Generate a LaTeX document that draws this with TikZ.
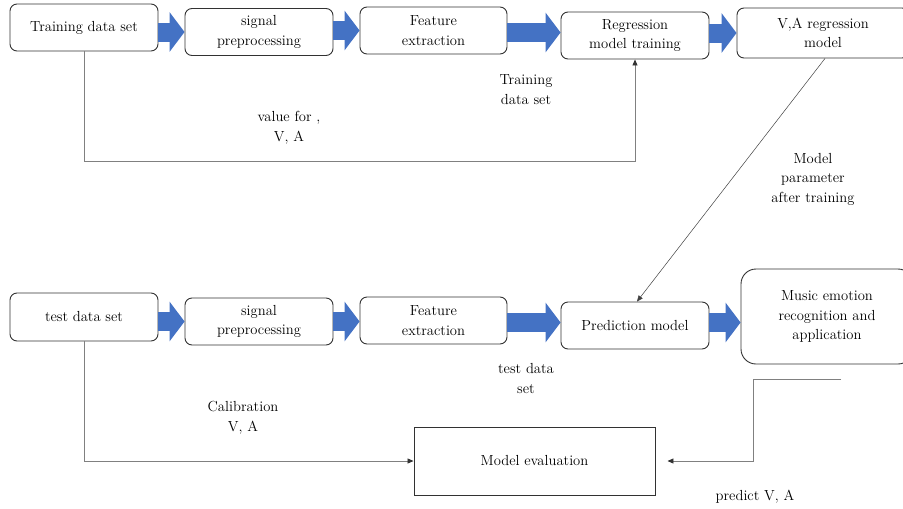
\documentclass[tikz,border=0pt]{standalone}
\usepackage{fontspec}
\usetikzlibrary{arrows.meta,positioning,calc}
\definecolor{arrowblue}{RGB}{68,114,196}
\definecolor{boxline}{RGB}{50,50,50}
\definecolor{connline}{RGB}{128,128,128}
\tikzset{
  box/.style={draw=boxline, line width=0.9pt, rounded corners=7pt, align=center,
    inner sep=2pt, font=\rmfamily\fontsize{14.6}{19.5}\selectfont, text=black},
  sqbox/.style={draw=boxline, line width=0.9pt, align=center,
    inner sep=2pt, font=\rmfamily\fontsize{14.6}{19.5}\selectfont, text=black},
  bigarrow/.style={draw=arrowblue, line width=19pt,
    -{Triangle[width=39pt,length=15pt]}, arrowblue},
  conn/.style={draw=connline, line width=0.8pt,
    arrows={-{Triangle[length=6pt,width=5pt,color=black!80]}}},
  diag/.style={draw=black!75, line width=0.5pt, -{Triangle[length=6pt,width=5pt]}},
  lbl/.style={align=center, font=\rmfamily\fontsize{14.6}{19.5}\selectfont, text=black}
}
\begin{document}
\begin{tikzpicture}[x=1pt,y=-1pt]
\useasboundingbox (0,0) rectangle (903,509);
% top row
\node[box, minimum width=148pt, minimum height=47pt] (tr) at (84,27.5) {Training data set};
\node[box, minimum width=148pt, minimum height=47pt] (sp) at (259,32) {signal\\preprocessing};
\node[box, minimum width=147pt, minimum height=47pt] (fe) at (433.5,30.5) {Feature\\extraction};
\node[box, minimum width=148pt, minimum height=47pt] (rm) at (635,35.5) {Regression\\model training};
\node[box, minimum width=172pt, minimum height=50pt] (va) at (823,33) {V,A regression\\model};
% bottom row
\node[box, minimum width=148pt, minimum height=48pt] (td) at (84,317) {test data set};
\node[box, minimum width=148pt, minimum height=47pt] (sp2) at (259,321.5) {signal\\preprocessing};
\node[box, minimum width=147pt, minimum height=47pt] (fe2) at (433.5,320.5) {Feature\\extraction};
\node[box, minimum width=148pt, minimum height=47pt] (pm) at (635,325.5) {Prediction model};
\node[box, rounded corners=15pt, minimum width=172pt, minimum height=95pt] (mu) at (827,316.5) {Music emotion\\recognition and\\application};
\node[sqbox, minimum width=241pt, minimum height=68pt] (me) at (534.5,461) {Model evaluation};
% big blue arrows, top
\draw[bigarrow] (tr.east |- sp.west) -- (sp.west);
\draw[bigarrow] (sp.east |- fe.west) -- (fe.west);
\draw[bigarrow] ([yshift=-2pt]fe.east) -- ([yshift=-2pt]fe.east -| rm.west);
\draw[bigarrow] (rm.east |- va.west) -- (va.west);
% big blue arrows, bottom
\draw[bigarrow] (td.east |- sp2.west) -- (sp2.west);
\draw[bigarrow] (sp2.east) -- (sp2.east -| fe2.west);
\draw[bigarrow] ([yshift=-2pt]fe2.east) -- ([yshift=-2pt]fe2.east -| pm.west);
\draw[bigarrow] ([yshift=3pt]pm.east) -- ([yshift=3pt]pm.east -| mu.west);
% thin connectors
\draw[conn] (tr.south) -- ++(0,110) -| (rm.south);
\draw[diag] ([xshift=2pt]va.south) -- ([xshift=2pt]pm.north);
\draw[conn] (td.south) |- (me.west);
\coordinate (pstart) at (841,379);
\coordinate (pend) at ([xshift=12pt]me.east);
\draw[conn] (pstart) -- ++(-88,0) |- (pend);
% labels
\node[lbl] (l1) at (289,128) {value for ,\\V, A};
\node[lbl] (l2) at (526,89.5) {Training\\data set};
\node[lbl] (l3) at (813,179) {Model\\parameter\\after training};
\node[lbl] (l4) at (243,418) {Calibration\\V, A};
\node[lbl] (l5) at (526,378.5) {test data\\set};
\node[lbl] (l6) at (755,497) {predict V, A};
\end{tikzpicture}
\end{document}
